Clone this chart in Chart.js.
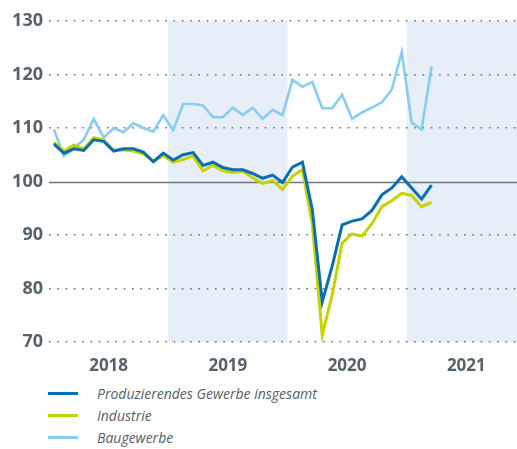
<!DOCTYPE html>
<html>
<head>
<meta charset="utf-8">
<script src="https://cdn.jsdelivr.net/npm/chart.js@4.4.1/dist/chart.umd.min.js"></script>
<style>
  html, body { margin: 0; padding: 0; background: #ffffff; }
  #wrap { position: relative; width: 517px; height: 449px; }
  #box { position: absolute; left: 0; top: 0; width: 517px; height: 380px; }
  .leg { position: absolute; left: 0; width: 517px; height: 20px; font-family: "Open Sans", sans-serif; font-style: italic; font-size: 14px; color: #555f66; }
  .leg span.ln { position: absolute; left: 48px; top: 8px; width: 30px; height: 3px; }
  .leg span.tx { position: absolute; left: 97px; top: 0; line-height: 19px; white-space: nowrap; }
</style>
</head>
<body>
<div id="wrap">
  <div id="box"><canvas id="c"></canvas></div>
  <div id="legend"></div>
</div>
<script>
// ---- data ----
const years = ['2018', '2019', '2020', '2021'];
const months = [];
for (const y of ['2018', '2019', '2020']) for (let m = 1; m <= 12; m++) months.push(y + '-' + String(m).padStart(2, '0'));
months.push('2021-01', '2021-02', '2021-03');

const seriesNames = ['Produzierendes Gewerbe insgesamt', 'Industrie', 'Baugewerbe'];

const produzierend = [107.0, 105.3, 106.1, 105.8, 107.8, 107.5, 105.7, 106.1, 106.1, 105.5, 103.7, 105.3,
  104.0, 105.0, 105.4, 103.0, 103.6, 102.6, 102.2, 102.2, 101.5, 100.6, 101.2, 99.8,
  102.7, 103.6, 94.7, 77.5, 84.2, 91.9, 92.6, 93.0, 94.6, 97.5, 98.8, 100.9,
  98.8, 96.7, 99.3];
const industrie = [107.3, 105.7, 106.8, 106.1, 108.2, 107.8, 105.8, 105.9, 105.7, 105.2, 103.8, 104.8,
  103.6, 104.1, 104.8, 102.0, 103.0, 102.0, 101.7, 101.9, 100.7, 99.6, 100.2, 98.5,
  101.0, 102.2, 92.0, 71.3, 78.8, 88.5, 90.2, 89.8, 92.1, 95.3, 96.4, 97.8,
  97.4, 95.3, 96.1];
const baugewerbe = [109.7, 104.8, 106.2, 107.8, 111.7, 108.2, 110.0, 109.2, 110.9, 110.0, 109.3, 112.4,
  109.6, 114.5, 114.5, 114.2, 112.0, 112.0, 113.8, 112.4, 113.8, 111.7, 113.4, 112.4,
  119.0, 117.7, 118.6, 113.7, 113.7, 116.2, 111.7, 112.9, 113.8, 114.8, 117.2, 124.2,
  111.0, 109.7, 121.5];
const yTicks = [70, 80, 90, 100, 110, 120, 130];

// ---- styles ----
const colors = ['#0a6eb2', '#c5d300', '#86cdf1'];
const widths = [3, 3, 2.6];
const bandColor = '#e7eef8';
const textColor = '#56626b';

const toXY = arr => arr.map((v, i) => ({ x: i, y: v }));

const bandsPlugin = {
  id: 'bands',
  beforeDraw(chart) {
    const { ctx, chartArea, scales } = chart;
    const xs = scales.x;
    ctx.save();
    ctx.fillStyle = bandColor;
    years.forEach((y, k) => {
      if (k % 2 === 1) {
        const x0 = Math.max(chartArea.left, xs.getPixelForValue(k * 12 - 0.5));
        const x1 = Math.min(chartArea.right, xs.getPixelForValue(k * 12 + 11.5));
        ctx.fillRect(x0, chartArea.top, x1 - x0, chartArea.bottom - chartArea.top);
      }
    });
    ctx.restore();
  },
  beforeDatasetsDraw(chart) {
    const { ctx, chartArea, scales } = chart;
    const yp = Math.round(scales.y.getPixelForValue(100)) + 0.5;
    ctx.save();
    ctx.strokeStyle = '#6c777e';
    ctx.lineWidth = 1.6;
    ctx.beginPath();
    ctx.moveTo(chartArea.left, yp);
    ctx.lineTo(chartArea.right, yp);
    ctx.stroke();
    ctx.restore();
  }
};

new Chart(document.getElementById('c'), {
  type: 'line',
  data: {
    datasets: [
      { label: seriesNames[0], data: toXY(produzierend), borderColor: colors[0], borderWidth: widths[0] },
      { label: seriesNames[1], data: toXY(industrie), borderColor: colors[1], borderWidth: widths[1] },
      { label: seriesNames[2], data: toXY(baugewerbe), borderColor: colors[2], borderWidth: widths[2] }
    ]
  },
  options: {
    responsive: true,
    maintainAspectRatio: false,
    animation: false,
    layout: { padding: { top: 21, right: 0, left: 0, bottom: 0 } },
    elements: {
      point: { radius: 0, hoverRadius: 0 },
      line: { tension: 0, borderJoinStyle: 'miter', borderCapStyle: 'butt' }
    },
    plugins: { legend: { display: false }, tooltip: { enabled: false } },
    scales: {
      x: {
        type: 'linear',
        min: -0.5,
        max: 46.6,
        afterBuildTicks(axis) {
          axis.ticks = years.map((y, k) => ({ value: k * 12 + 5.5, label: y }));
        },
        afterFit(axis) { axis.height = 38; },
        grid: { display: false, drawTicks: false },
        border: { display: false },
        ticks: {
          autoSkip: false,
          maxRotation: 0,
          padding: 14,
          color: textColor,
          font: { family: 'Open Sans', size: 17, weight: 'bold' },
          callback(value) {
            const k = Math.round((value - 5.5) / 12);
            return years[k];
          }
        }
      },
      y: {
        min: 70,
        max: 130,
        afterBuildTicks(axis) { axis.ticks = yTicks.map(v => ({ value: v })); },
        afterFit(axis) { axis.width = 49; },
        grid: {
          drawTicks: false,
          color: ctx => (ctx.tick && ctx.tick.value === 100) ? 'rgba(0,0,0,0)' : '#66717a',
          lineWidth: 1.6
        },
        border: { display: false, dash: [1.6, 6.7] },
        ticks: {
          padding: 6,
          color: textColor,
          font: { family: 'Open Sans', size: 18, weight: 'bold' }
        }
      }
    }
  },
  plugins: [bandsPlugin]
});

// ---- HTML legend ----
const legend = document.getElementById('legend');
const rowTops = [384, 406, 428];
seriesNames.forEach((name, i) => {
  const row = document.createElement('div');
  row.className = 'leg';
  row.style.top = rowTops[i] + 'px';
  row.innerHTML = '<span class="ln" style="background:' + colors[i] + '"></span><span class="tx">' + name + '</span>';
  legend.appendChild(row);
});
</script>
</body>
</html>
